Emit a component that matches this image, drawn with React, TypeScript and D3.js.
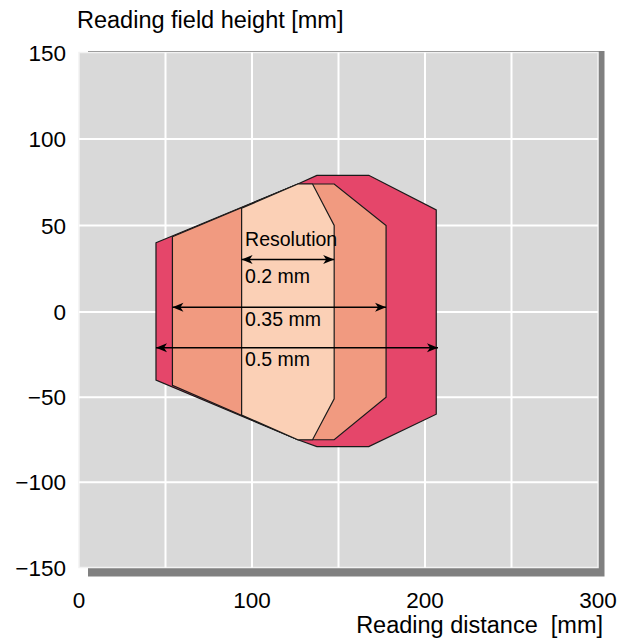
import React from "react";
import * as d3 from "d3";

// Reading field zones: [reading distance mm, field height mm]
const zone05: [number, number][] = [
  [44.5, 40], [126.5, 74], [137.5, 79], [167.5, 79], [206.5, 59],
  [206.5, -60], [167.5, -79], [137.5, -79], [126.5, -75], [44.5, -40],
];
const zone035: [number, number][] = [
  [54, 43.5], [126.5, 74], [147.5, 74], [177.5, 50],
  [177.5, -50], [147.5, -75], [126.5, -75], [54, -43],
];
const zone02: [number, number][] = [
  [94, 60], [126.5, 74], [135, 74], [147.5, 50],
  [147.5, -51], [135, -75], [126.5, -75], [94, -60.5],
];

// Resolution arrows: [x start, x end, y]
const arrows: [number, number, number][] = [
  [94, 147.5, 30.4],
  [54, 177.5, 2.7],
  [44.5, 207.5, -21],
];
const annotations: { text: string; x: number; y: number }[] = [
  { text: "Resolution", x: 96, y: 38 },
  { text: "0.2 mm", x: 96, y: 16.6 },
  { text: "0.35 mm", x: 96, y: -8.5 },
  { text: "0.5 mm", x: 96, y: -31.8 },
];

const xTicks = [0, 100, 200, 300];
const xGrid = [50, 100, 150, 200, 250];
const yTicks = [150, 100, 50, 0, -50, -100, -150];
const yGrid = [100, 50, 0, -50, -100];
const xTitle = "Reading distance  [mm]";
const yTitle = "Reading field height [mm]";

const FONT = "'Liberation Sans', Arial, Helvetica, sans-serif";

export default function App() {
  const x = d3.scaleLinear().domain([0, 300]).range([79, 598]);
  const y = d3.scaleLinear().domain([-150, 0, 150]).range([567.5, 312, 52.5]);
  const line = d3
    .line<[number, number]>()
    .x((d) => x(d[0]))
    .y((d) => y(d[1]))
    .curve(d3.curveLinearClosed);

  const [x0, x1] = x.range();
  const yTop = y(150);
  const yBot = y(-150);
  const fmt = (v: number) => (v < 0 ? "\u2212" + Math.abs(v) : String(v));

  return (
    <svg
      width={637}
      height={643}
      style={{ position: "absolute", left: 0, top: 0, background: "#fff" }}
      fontFamily={FONT}
    >
      <defs>
        <marker
          id="arrowhead"
          markerUnits="userSpaceOnUse"
          markerWidth={14}
          markerHeight={12}
          viewBox="-12 -6 14 12"
          refX={0}
          refY={0}
          orient="auto-start-reverse"
        >
          <path d="M0,0 L-11,-4.5 L-8,0 L-11,4.5 Z" fill="#000" />
        </marker>
      </defs>

      {/* shadow */}
      <rect x={x0 + 9} y={yTop - 1.5} width={x1 - x0 - 2.5} height={yBot - yTop + 10.5} fill="#808080" />
      {/* plot area */}
      <rect x={x0} y={yTop} width={x1 - x0} height={yBot - yTop} fill="#d9d9d9" stroke="#f2f2f2" strokeWidth={1.5} />

      {xGrid.map((v) => (
        <line key={"gx" + v} x1={x(v)} x2={x(v)} y1={yTop} y2={yBot} stroke="#fff" strokeWidth={2} />
      ))}
      {yGrid.map((v) => (
        <line key={"gy" + v} x1={x0} x2={x1} y1={y(v)} y2={y(v)} stroke="#fff" strokeWidth={2} />
      ))}

      <path d={line(zone05) || ""} fill="#e5466a" stroke="#1a1a1a" strokeWidth={1.2} />
      <path d={line(zone035) || ""} fill="#f19a80" stroke="#1a1a1a" strokeWidth={1.2} />
      <path d={line(zone02) || ""} fill="#fbd0b6" stroke="#1a1a1a" strokeWidth={1.2} />

      {arrows.map(([a, b, v], i) => (
        <line
          key={"a" + i}
          x1={x(a)}
          x2={x(b)}
          y1={y(v)}
          y2={y(v)}
          stroke="#000"
          strokeWidth={1.5}
          markerStart="url(#arrowhead)"
          markerEnd="url(#arrowhead)"
        />
      ))}
      {annotations.map((a) => (
        <text key={a.text} x={x(a.x)} y={y(a.y)} fontSize={19.5} fill="#000">
          {a.text}
        </text>
      ))}

      {yTicks.map((v) => (
        <text key={"ty" + v} x={66} y={y(v) + 8} textAnchor="end" fontSize={22.5} fill="#000">
          {fmt(v)}
        </text>
      ))}
      {xTicks.map((v) => (
        <text key={"tx" + v} x={x(v)} y={608} textAnchor="middle" fontSize={22.5} fill="#000">
          {fmt(v)}
        </text>
      ))}
      <text x={77} y={28} fontSize={23.5} fill="#000">
        {yTitle}
      </text>
      <text x={603} y={633} textAnchor="end" fontSize={23.5} fill="#000" style={{ whiteSpace: "pre" }}>
        {xTitle}
      </text>
    </svg>
  );
}
